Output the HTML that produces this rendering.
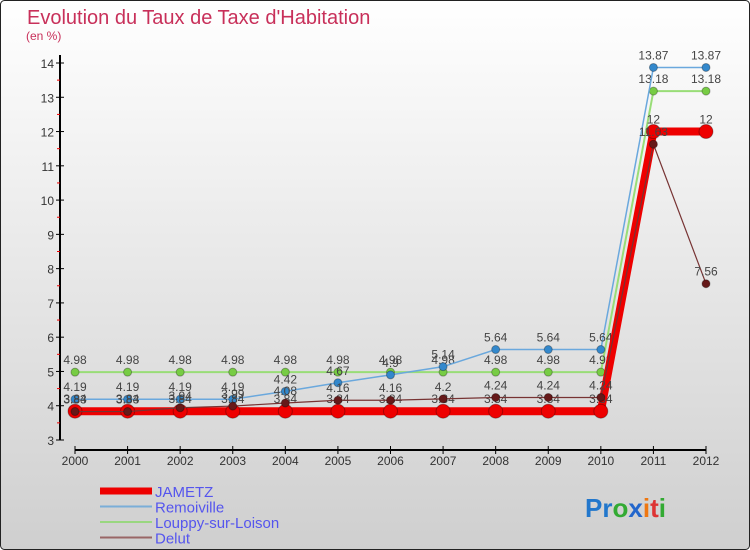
<!DOCTYPE html>
<html><head><meta charset="utf-8"><style>
body{margin:0;}
#wrap{width:750px;height:550px;position:relative;overflow:hidden;}
svg{display:block;font-family:"Liberation Sans",sans-serif;}
</style></head><body>
<div id="wrap">
<svg id="chart" width="750" height="550">
<defs><linearGradient id="bg" x1="0" y1="0" x2="0" y2="1"><stop offset="0" stop-color="#ffffff"/><stop offset="1" stop-color="#cfcfcf"/></linearGradient></defs>
<rect x="0.5" y="0.5" width="749" height="549" rx="4" fill="url(#bg)" stroke="#222"/>
<text x="27" y="24" font-size="20" fill="#c8305a">Evolution du Taux de Taxe d'Habitation</text>
<text x="26" y="40" font-size="12" fill="#c8305a">(en %)</text>
<g id="axes"></g><g id="series"></g><g id="legend"></g>
<text x="585" y="517" font-size="26" font-weight="bold"><tspan fill="#2277cc">Pr</tspan><tspan fill="#33aa33">o</tspan><tspan fill="#2266cc">x</tspan><tspan fill="#ee7711">i</tspan><tspan fill="#dd3333">t</tspan><tspan fill="#33aa33">i</tspan></text>
</svg></div>
<script>
const years=[2000,2001,2002,2003,2004,2005,2006,2007,2008,2009,2010,2011,2012];
const yTicks=[3,4,5,6,7,8,9,10,11,12,13,14];
const jametz=[3.84,3.84,3.84,3.84,3.84,3.84,3.84,3.84,3.84,3.84,3.84,12,12];
const remoiville=[4.19,4.19,4.19,4.19,4.42,4.67,4.9,5.14,5.64,5.64,5.64,13.87,13.87];
const louppy=[4.98,4.98,4.98,4.98,4.98,4.98,4.98,4.98,4.98,4.98,4.98,13.18,13.18];
const delut=[3.83,3.83,3.94,3.99,4.08,4.16,4.16,4.2,4.24,4.24,4.24,11.63,7.56];
const seriesNames=["JAMETZ","Remoiville","Louppy-sur-Loison","Delut"];
const NS="http://www.w3.org/2000/svg";
const xS=i=>75+i*(706-75)/(years.length-1);
const yS=v=>440-(v-3)*(440-63)/11;
function mk(p,t,a){const e=document.createElementNS(NS,t);for(const k in a)e.setAttribute(k,a[k]);p.appendChild(e);return e;}
const axes=document.getElementById('axes');
let e=mk(axes,'line',{x1:60,y1:55,x2:60,y2:440,stroke:'#000','stroke-width':2});


e=mk(axes,'line',{x1:75,y1:450,x2:706,y2:450,stroke:'#000','stroke-width':2});


yTicks.forEach(v=>{
 mk(axes,'line',{x1:56,y1:yS(v),x2:64,y2:yS(v),stroke:'#000'});
 if(v<14)mk(axes,'line',{x1:57,y1:yS(v+0.5),x2:60,y2:yS(v+0.5),stroke:'#e00'});
 const t=mk(axes,'text',{x:54,y:yS(v)+5,'font-size':12,'text-anchor':'end',fill:'#333'});
 t.textContent=v;
 
 
});
years.forEach((y,i)=>{
 mk(axes,'line',{x1:xS(i),y1:446,x2:xS(i),y2:454,stroke:'#000'});
 const t=mk(axes,'text',{x:xS(i),y:465,'font-size':12,'text-anchor':'middle',fill:'#333'});
 t.textContent=y;
 
 
});
const ser=document.getElementById('series');
function draw(vals,name,color,w,r,dot){
 const g=mk(ser,'g',{});
 
 
 const pl=mk(g,'polyline',{points:vals.map((v,i)=>xS(i)+','+yS(v)).join(' '),fill:'none',stroke:color,'stroke-width':w});
 
 
 vals.forEach((v,i)=>{
  const c=mk(g,'circle',{cx:xS(i),cy:yS(v),r:r,fill:dot,stroke:'rgba(0,0,0,0.3)'});
  
  
  const t=mk(g,'text',{x:xS(i),y:yS(v)-8,'font-size':12,'text-anchor':'middle',fill:'#444'});
  t.textContent=v;
  
  
 });
}
draw(louppy,'louppy','#99dd77',2,4,'#77cc44');
draw(remoiville,'remoiville','#6aa8dd',1.5,4,'#3388cc');
draw(jametz,'jametz','#ee0000',8,7,'#ee0000');
draw(delut,'delut','#773333',1.2,4,'#661919');
const leg=document.getElementById('legend');
const legColors=['#ee0000','#7aaed8','#99d780','#996666'];
const legW=[7,2,2,2];
seriesNames.forEach((n,i)=>{
 const y=491+i*15.5;
 const g=mk(leg,'g',{});
 
 
 mk(g,'line',{x1:100,y1:y,x2:152,y2:y,stroke:legColors[i],'stroke-width':legW[i]});
 const t=mk(g,'text',{x:155,y:y+6,'font-size':15,fill:'#5555ee'});
 t.textContent=n;
});
</script></body></html>
